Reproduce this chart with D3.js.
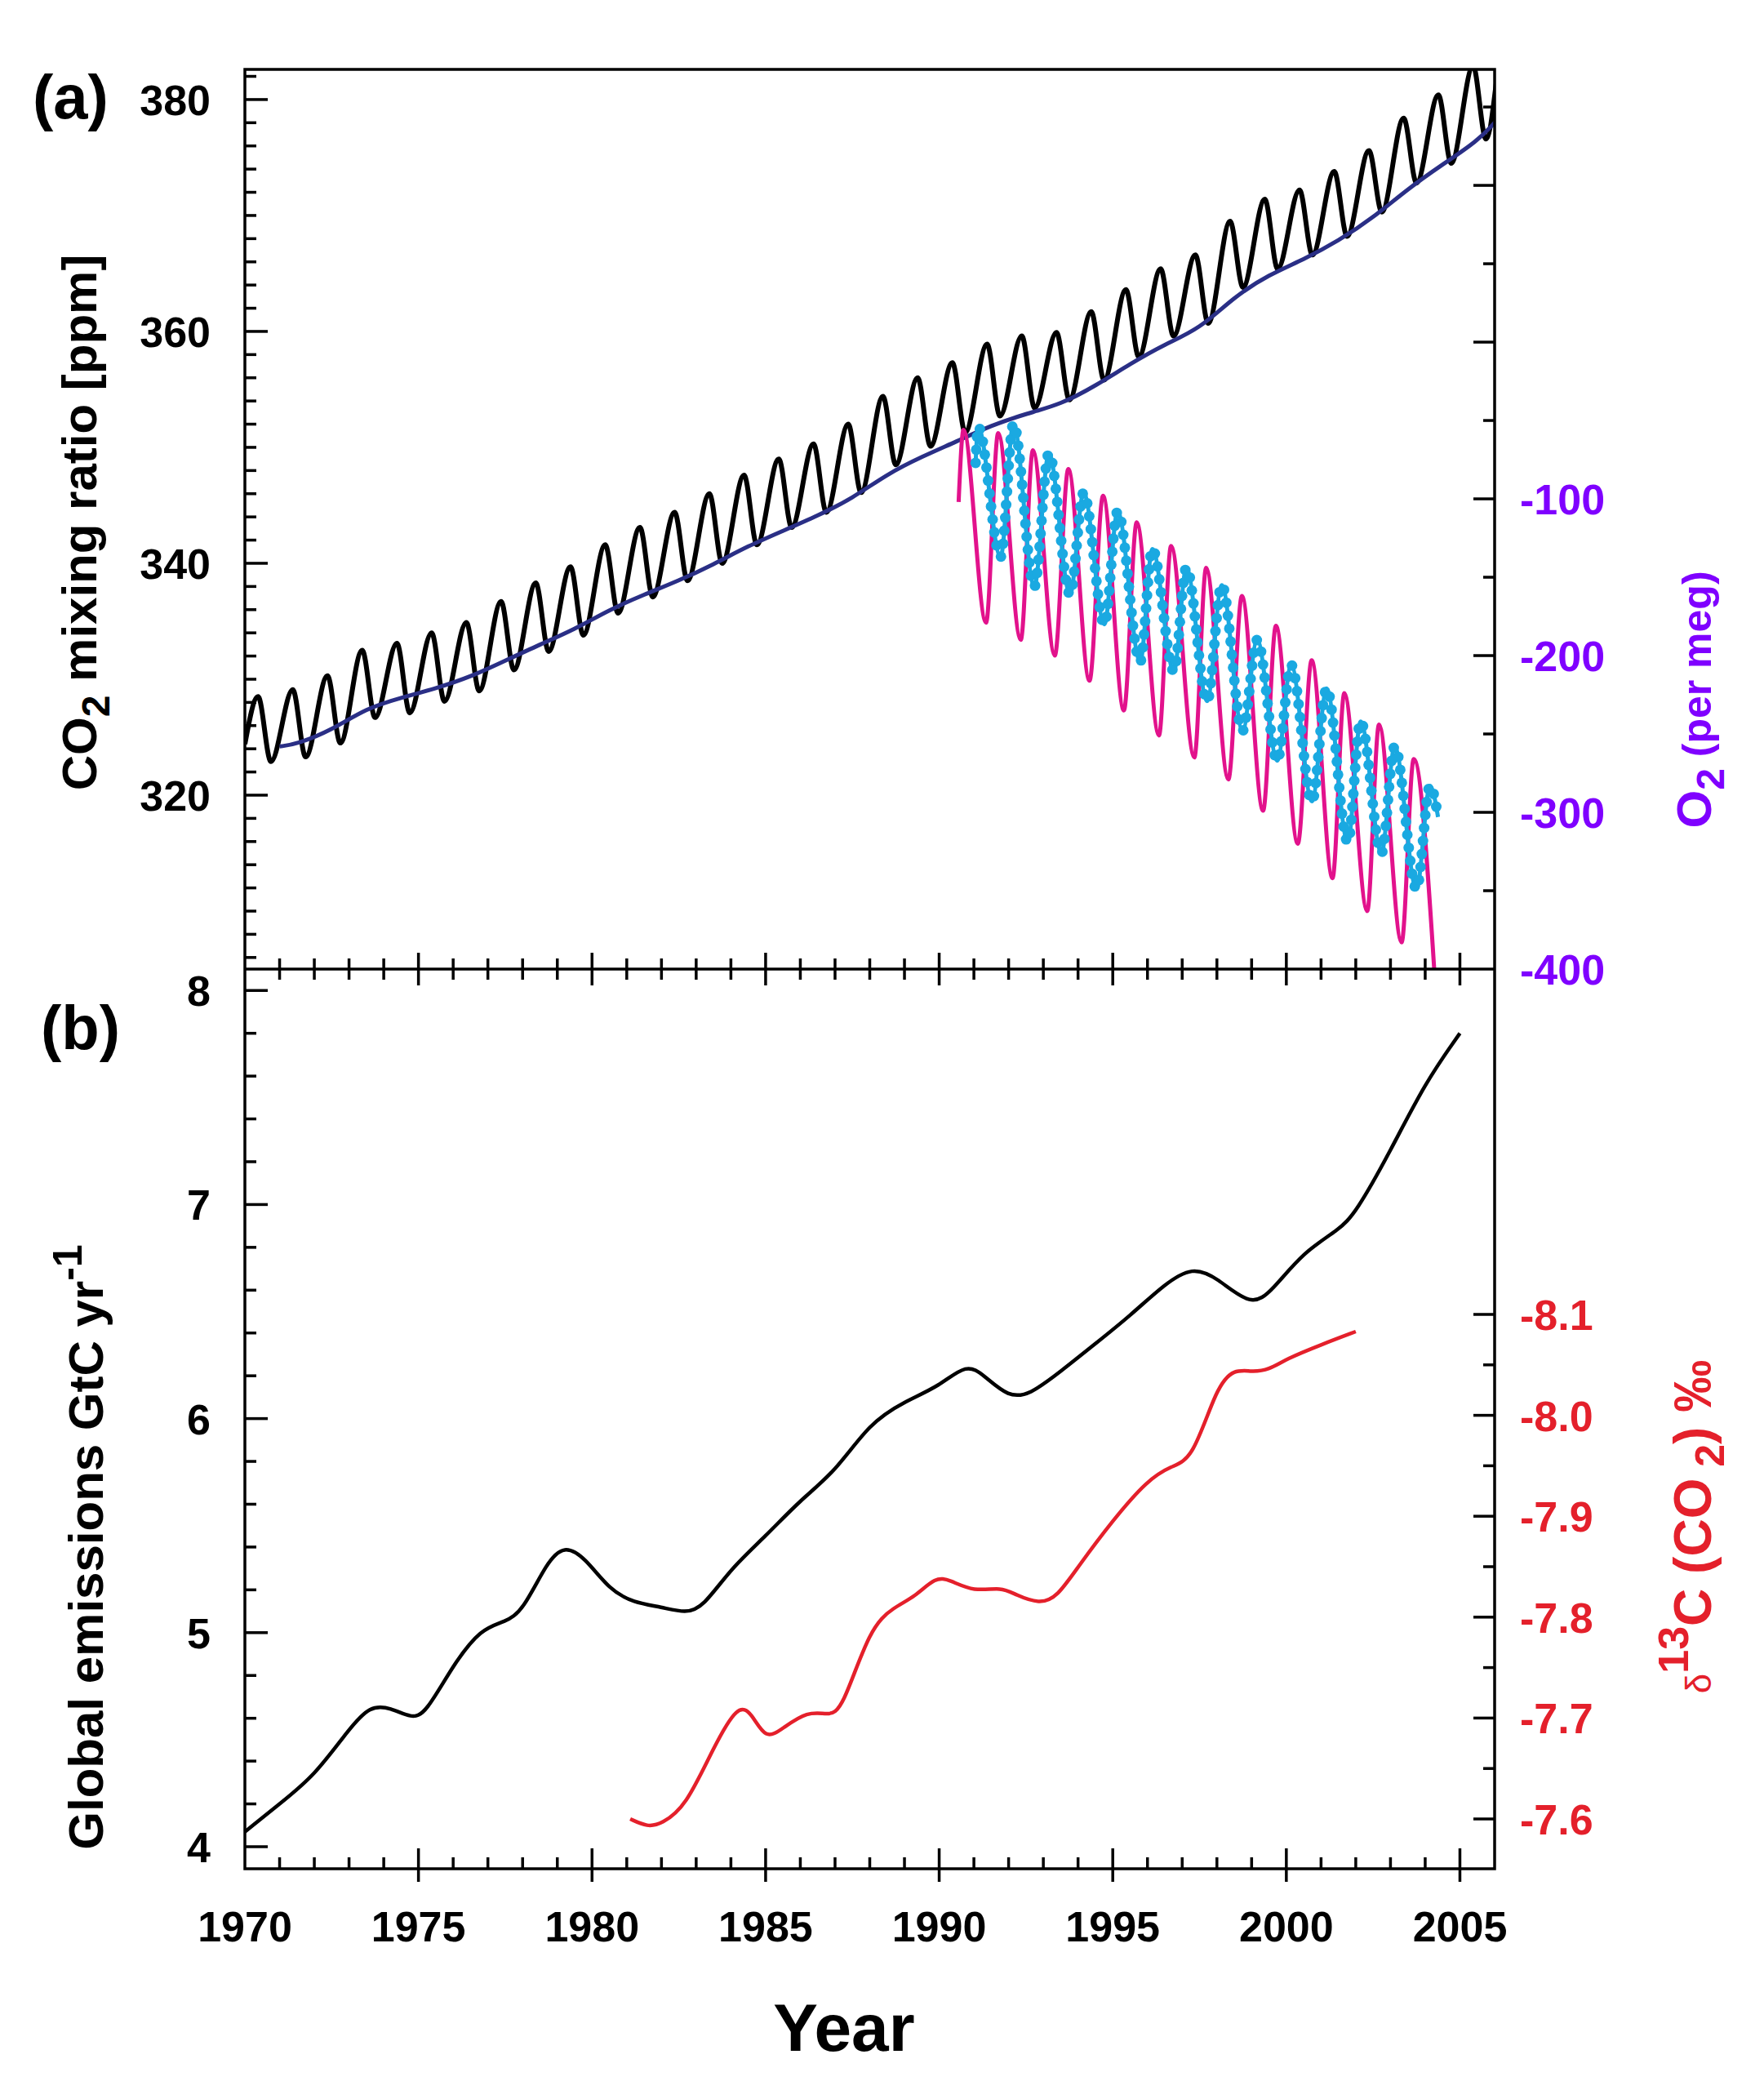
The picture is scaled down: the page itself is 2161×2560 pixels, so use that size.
<!DOCTYPE html>
<html><head><meta charset="utf-8">
<script src="https://cdn.jsdelivr.net/npm/d3@7"></script>
<style>body{margin:0;background:#fff}text{font-family:"Liberation Sans",Arial,sans-serif;font-weight:bold}</style>
</head><body><div id="chart"></div>
<script>
// CO2 Mauna Loa: seasonal maxima / minima
var co2Years = d3.range(1970, 2006);
var co2Peaks = [328.5,329.1,330.3,332.5,333.1,334.0,334.9,336.7,338.3,339.7,341.6,343.1,344.4,346.0,347.6,349.0,350.3,352.0,354.4,356.0,357.3,358.9,359.6,359.9,361.7,363.6,365.4,366.6,369.5,371.4,372.2,373.8,375.6,378.4,380.4,382.9];
var co2Troughs = [322.9,323.3,324.5,326.7,327.1,328.1,329.0,330.8,332.4,333.8,335.7,337.1,338.5,340.0,341.6,343.1,344.4,346.1,348.5,350.1,351.3,352.7,353.4,354.1,355.8,357.8,359.6,360.7,363.8,365.4,366.6,368.2,370.3,372.8,374.5,376.6];
// deseasonalised trend
var trendYears = [1971,1971.5,1972.5,1973.5,1974.5,1975.5,1976.5,1977.5,1978.5,1979.5,1980.5,1981.5,1982.5,1983.5,1984.5,1985.5,1986.5,1987.5,1988.5,1989.5,1990.5,1991.5,1992.5,1993.5,1994.5,1995.5,1996.5,1997.5,1998.5,1999.5,2000.5,2001.5,2002.5,2003.5,2004.5,2005.5,2006];
var trendCO2 = [324.2,324.4,325.6,327.5,328.4,329.2,330.2,331.6,333.0,334.3,336.0,337.3,338.5,339.9,341.5,342.8,344.1,345.6,347.7,349.2,350.5,351.9,352.9,353.7,355.3,357.2,358.9,360.2,363.0,364.9,366.2,367.8,369.8,372.3,374.4,376.4,378.0];
// O2 (per meg), magenta record
var o2aYears = [1990.56,1990.70,1991.35,1991.70,1992.35,1992.70,1993.33,1993.72,1994.33,1994.72,1995.32,1995.69,1996.33,1996.68,1997.35,1997.69,1998.33,1998.72,1999.33,1999.70,2000.33,2000.73,2001.33,2001.67,2002.33,2002.67,2003.32,2003.67,2004.28];
var o2aVals = [-102,-56,-179,-58,-190,-69,-200,-81,-216,-98,-235,-115,-251,-130,-265,-144,-279,-162,-299,-181,-320,-203,-342,-224,-363,-244,-383,-266,-407];
// O2 (per meg), cyan record
var o2bYears = [1991.05,1991.12,1991.77,1992.14,1992.74,1993.16,1993.77,1994.16,1994.76,1995.14,1995.79,1996.14,1996.76,1997.12,1997.72,1998.14,1998.74,1999.16,1999.74,2000.14,2000.74,2001.16,2001.77,2002.14,2002.74,2003.12,2003.75,2004.14,2004.37];
var o2bVals = [-77,-54,-137,-52,-156,-71,-161,-96,-180,-108,-204,-132,-210,-144,-229,-155,-248,-190,-267,-206,-293,-221,-319,-242,-326,-258,-349,-283,-303];
// panel b: global emissions GtC/yr
var emYears = [1970,1971,1972,1973,1973.6,1974.2,1974.8,1975.2,1976,1976.8,1977.5,1978,1978.7,1979.2,1979.8,1980.5,1981.2,1982,1982.7,1983.2,1984,1985,1986,1987,1988,1989,1990,1990.8,1991.3,1992,1992.6,1993.5,1994.5,1995.5,1996.5,1997.3,1998,1999,1999.6,2000.5,2001.5,2002,2003,2004,2005];
var emVals = [4.07,4.2,4.33,4.55,4.66,4.65,4.6,4.62,4.85,5.02,5.05,5.1,5.33,5.41,5.35,5.2,5.14,5.12,5.09,5.12,5.3,5.45,5.62,5.75,5.98,6.08,6.15,6.26,6.2,6.1,6.11,6.22,6.35,6.48,6.63,6.71,6.66,6.52,6.6,6.78,6.88,6.96,7.25,7.57,7.8];
// panel b: delta13C of CO2
var d13Years = [1981.1,1981.6,1982,1982.7,1983.5,1984.2,1984.6,1985,1985.5,1986.2,1986.8,1987.2,1988,1988.7,1989.3,1989.9,1990.3,1991,1991.8,1992.2,1992.9,1993.4,1994,1995,1996,1996.7,1997.3,1998,1998.5,1999,1999.5,2000,2001,2002];
var d13Vals = [-7.6,-7.592,-7.595,-7.612,-7.671,-7.714,-7.705,-7.678,-7.69,-7.707,-7.703,-7.707,-7.79,-7.81,-7.82,-7.84,-7.837,-7.825,-7.83,-7.822,-7.813,-7.82,-7.85,-7.896,-7.936,-7.95,-7.956,-8.029,-8.046,-8.043,-8.045,-8.056,-8.07,-8.083];

var W = 2161, H = 2560;
var L = 300, R = 1831, T = 85, M = 1187, B = 2289;
var svg = d3.select("#chart").append("svg").attr("width", W).attr("height", H);

var x = d3.scaleLinear().domain([1970, 2006]).range([L, R]);
var yA = d3.scaleLinear().domain([305, 382.6]).range([M, T]);
var yO = d3.scaleLinear().domain([-400, 174]).range([M, T]);
var yB = d3.scaleLinear().domain([3.897, 8.1]).range([B, M]);
var yD = d3.scaleLinear().domain([-7.6, -8.1]).range([2228, 1610]);

svg.append("defs").append("clipPath").attr("id", "clipA").append("rect")
    .attr("x", L).attr("y", T).attr("width", R - L).attr("height", M - T);

function mk(xs, vs){ return xs.map(function(v, i){ return {x: v, y: vs[i]}; }); }
function path(g, data, ys, col, w, curve){
    return g.append("path").datum(data).attr("fill", "none").attr("stroke", col).attr("stroke-width", w)
        .attr("stroke-linejoin", "round")
        .attr("d", d3.line().x(function(d){return x(d.x);}).y(function(d){return ys(d.y);}).curve(curve));
}

// CO2 seasonal series
var co2Pts = [{x: 1970, y: 324.4}];
co2Years.forEach(function(yr, i){
    co2Pts.push({x: yr + 0.38, y: co2Peaks[i]});
    co2Pts.push({x: yr + 0.75, y: co2Troughs[i]});
});
co2Pts.push({x: 2006.05, y: 381.5});

var gA = svg.append("g").attr("clip-path", "url(#clipA)");
path(gA, co2Pts, yA, "#000", 6, d3.curveMonotoneX);
path(gA, mk(trendYears, trendCO2), yA, "#2a2f86", 5, d3.curveBasis);
path(gA, mk(o2aYears, o2aVals), yO, "#e2128c", 5, d3.curveMonotoneX);
var cyan = path(gA, mk(o2bYears, o2bVals), yO, "#1aa9e1", 5, d3.curveMonotoneX);
// markers along the cyan record
var node = cyan.node(), len = node.getTotalLength();
var marks = d3.range(0, len, 16).map(function(l){ return node.getPointAtLength(l); });
gA.selectAll("circle.m").data(marks).enter().append("circle")
    .attr("cx", function(d){return d.x;}).attr("cy", function(d){return d.y;}).attr("r", 6.5).attr("fill", "#1aa9e1");

// panel b
path(svg, mk(emYears, emVals), yB, "#000", 4.5, d3.curveBasis);
path(svg, mk(d13Years, d13Vals), yD, "#e4202b", 4.5, d3.curveBasis);

// frame
var ax = svg.append("g").attr("stroke", "#000").attr("stroke-width", 3.5).attr("fill", "none");
ax.append("rect").attr("x", L).attr("y", T).attr("width", R - L).attr("height", B - T);
ax.append("line").attr("x1", L).attr("x2", R).attr("y1", M).attr("y2", M);

function tick(x1, y1, x2, y2){ ax.append("line").attr("x1", x1).attr("y1", y1).attr("x2", x2).attr("y2", y2); }
d3.range(1971, 2006).forEach(function(yr){
    var major = yr % 5 === 0;
    tick(x(yr), M - (major ? 20 : 13), x(yr), M + (major ? 20 : 13));
    tick(x(yr), B, x(yr), B - (major ? 25 : 14));
    if (major) tick(x(yr), B, x(yr), B + 16);
});
d3.range(306, 382.6, 2).forEach(function(v){ tick(L, yA(v), L + (v % 20 === 0 ? 28 : 14), yA(v)); });
d3.range(4, 8.01, 0.2).forEach(function(v){ var mj = Math.abs(v - Math.round(v)) < 1e-6; tick(L, yB(v), L + (mj ? 28 : 14), yB(v)); });
d3.range(-350, 174, 50).forEach(function(v){ tick(R, yO(v), R - (v % 100 === 0 ? 26 : 14), yO(v)); });
d3.range(-7.6, -8.101, -0.05).forEach(function(v){ var mj = Math.abs(v * 10 - Math.round(v * 10)) < 1e-6; tick(R, yD(v), R - (mj ? 26 : 14), yD(v)); });

var fs = 52;
function lab(t, xx, yy, anchor, col){ return svg.append("text").attr("x", xx).attr("y", yy).attr("text-anchor", anchor).attr("font-size", fs).attr("fill", col || "#000").text(t); }
[320, 340, 360, 380].forEach(function(v){ lab(v, 258, yA(v) + 19, "end"); });
[4, 5, 6, 7, 8].forEach(function(v){ lab(v, 258, yB(v) + 19, "end"); });
[-100, -200, -300, -400].forEach(function(v){ lab(v, 1862, yO(v) + 19, "start", "#7f00ff"); });
[-7.6, -7.7, -7.8, -7.9, -8.0, -8.1].forEach(function(v){ lab(v.toFixed(1), 1862, yD(v) + 19, "start", "#e4202b"); });
[1970, 1975, 1980, 1985, 1990, 1995, 2000, 2005].forEach(function(v){ lab(v, x(v), 2378, "middle"); });

svg.append("text").attr("x", 1034).attr("y", 2512).attr("text-anchor", "middle").attr("font-size", 82).text("Year");
svg.append("text").attr("x", 40).attr("y", 145).attr("font-size", 76).text("(a)");
svg.append("text").attr("x", 50).attr("y", 1285).attr("font-size", 76).text("(b)");

function vtitle(xx, yy, col, build){
    var t = svg.append("text").attr("transform", "translate(" + xx + "," + yy + ") rotate(-90)")
        .attr("text-anchor", "middle").attr("font-size", 60).attr("fill", col);
    build(t);
}
vtitle(118, 640, "#000", function(t){
    t.append("tspan").text("CO");
    t.append("tspan").attr("dy", 16).attr("font-size", 48).text("2");
    t.append("tspan").attr("dy", -16).text(" mixing ratio [ppm]");
});
vtitle(126, 1895, "#000", function(t){
    t.append("tspan").text("Global emissions GtC yr");
    t.append("tspan").attr("dy", -26).attr("font-size", 50).text("-1");
});
vtitle(2096, 857, "#7f00ff", function(t){
    t.append("tspan").text("O");
    t.append("tspan").attr("dy", 16).attr("font-size", 48).text("2");
    t.append("tspan").attr("dy", -16).attr("font-size", 50).text(" (per meg)");
});
vtitle(2096, 1870, "#e4202b", function(t){
    t.append("tspan").attr("font-size", 44).attr("font-weight", "normal").text("δ");
    t.append("tspan").attr("dy", -28).attr("font-size", 52).text("13");
    t.append("tspan").attr("dy", 28).attr("font-size", 64).text("C (CO");
    t.append("tspan").attr("dy", 16).attr("font-size", 50).text(" 2");
    t.append("tspan").attr("dy", -16).attr("font-size", 64).text(") ‰");
});
</script></body></html>
